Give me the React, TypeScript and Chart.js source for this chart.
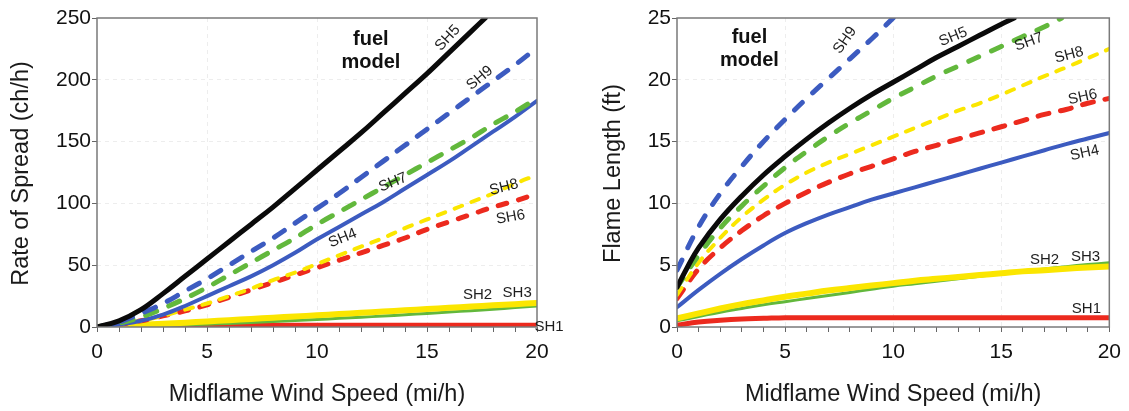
import React, { useEffect, useRef } from 'react';
import { Chart, registerables } from 'chart.js';
Chart.register(...registerables);

const FONT = '"Liberation Sans", Arial, Helvetica, sans-serif';

// ---------- Left chart: Rate of Spread (ch/h) ----------
const WIND = [0, 1, 2, 3, 4, 5, 6, 7, 8, 9, 10, 11, 12, 13, 14, 15, 16, 17, 18, 19, 20];
const ROS_SH5_X = [0, 1, 2, 3, 4, 5, 6, 7, 8, 9, 10, 11, 12, 13, 14, 15, 16, 17, 17.65];
const ROS_SH5 = [0, 5, 14, 27, 41, 55, 69, 83, 97, 112, 127, 142, 157, 173, 189, 205, 222, 239, 250];
const ROS_SH9 = [0, 4, 11, 19, 29, 39, 50, 61, 72, 84, 96, 108, 121, 134, 147, 160, 173, 186, 199, 212, 226];
const ROS_SH7 = [0, 3, 8, 15, 23, 32, 42, 52, 62, 72, 83, 93, 103, 113, 123, 133, 143, 153, 164, 174, 185];
const ROS_SH4 = [0, 2, 5, 10, 17, 25, 33, 41, 50, 60, 71, 81, 91, 101, 112, 123, 134, 146, 158, 170, 183];
const ROS_SH8 = [0, 2, 5, 9, 14, 19, 25, 31, 38, 44, 51, 58, 65, 72, 80, 87, 94, 101, 108, 116, 123];
const ROS_SH6 = [0, 2, 5, 9, 13, 18, 24, 30, 36, 42, 48, 54, 60, 66, 72, 79, 85, 91, 97, 102, 108];
const ROS_SH2 = [0, 0.8, 1.7, 2.6, 3.5, 4.5, 5.5, 6.5, 7.5, 8.5, 9.5, 10.5, 11.5, 12.5, 13.5, 14.5, 15.5, 16.5, 17.5, 18.5, 19.5];
const ROS_SH3 = [0, 0.3, 0.7, 1.2, 1.7, 2.3, 2.9, 3.6, 4.4, 5.2, 6.1, 7.0, 7.9, 8.9, 9.9, 11.0, 12.1, 13.2, 14.4, 15.7, 17.0];
const ROS_SH1 = [0, 0.9, 1.2, 1.4, 1.5, 1.5, 1.5, 1.5, 1.5, 1.5, 1.5, 1.5, 1.5, 1.5, 1.5, 1.5, 1.5, 1.5, 1.5, 1.5, 1.5];

// ---------- Right chart: Flame Length (ft) ----------
const FL_SH9_X = [0, 1, 2, 3, 4, 5, 6, 7, 8, 9, 10];
const FL_SH9 = [4.6, 8.1, 10.8, 13.0, 15.0, 16.8, 18.5, 20.1, 21.7, 23.3, 25.0];
const FL_SH5_X = [0, 0.5, 1, 2, 3, 4, 5, 6, 7, 8, 9, 10, 11, 12, 13, 14, 15, 15.6];
const FL_SH5 = [3.2, 4.9, 6.4, 8.7, 10.6, 12.3, 13.8, 15.2, 16.5, 17.7, 18.8, 19.8, 20.8, 21.8, 22.7, 23.6, 24.5, 25.0];
const FL_SH7_X = [0, 1, 2, 3, 4, 5, 6, 7, 8, 9, 10, 11, 12, 13, 14, 15, 16, 17, 17.8];
const FL_SH7 = [3.2, 5.8, 8.0, 9.8, 11.4, 12.9, 14.2, 15.4, 16.5, 17.5, 18.5, 19.4, 20.3, 21.1, 21.9, 22.7, 23.5, 24.3, 25.0];
const FL_SH8 = [2.6, 5.2, 7.2, 8.9, 10.3, 11.5, 12.5, 13.3, 14.0, 14.7, 15.4, 16.1, 16.8, 17.5, 18.1, 18.8, 19.55, 20.3, 21.0, 21.75, 22.5];
const FL_SH6 = [2.3, 4.7, 6.4, 7.8, 9.0, 10.0, 10.9, 11.7, 12.4, 13.0, 13.6, 14.2, 14.7, 15.2, 15.7, 16.2, 16.7, 17.2, 17.6, 18.1, 18.5];
const FL_SH4 = [1.6, 3.0, 4.3, 5.5, 6.6, 7.6, 8.4, 9.1, 9.7, 10.3, 10.8, 11.3, 11.8, 12.3, 12.8, 13.3, 13.8, 14.3, 14.8, 15.25, 15.7];
const FL_SH2 = [0.7, 1.1, 1.5, 1.85, 2.15, 2.45, 2.7, 2.95, 3.15, 3.35, 3.55, 3.75, 3.9, 4.05, 4.2, 4.35, 4.5, 4.6, 4.72, 4.82, 4.9];
const FL_SH3 = [0.5, 0.85, 1.2, 1.5, 1.8, 2.05, 2.3, 2.55, 2.8, 3.05, 3.3, 3.5, 3.7, 3.9, 4.1, 4.3, 4.5, 4.7, 4.88, 5.05, 5.2];
const FL_SH1 = [0.15, 0.4, 0.55, 0.65, 0.7, 0.75, 0.75, 0.75, 0.75, 0.75, 0.75, 0.75, 0.75, 0.75, 0.75, 0.75, 0.75, 0.75, 0.75, 0.75, 0.75];

// ---------- Text ----------
const X_TITLE = 'Midflame Wind Speed (mi/h)';
const ROS_TITLE = 'Rate of Spread (ch/h)';
const FL_TITLE = 'Flame Length (ft)';
const X_TICKS = [0, 5, 10, 15, 20];
const ROS_TICKS = [0, 50, 100, 150, 200, 250];
const FL_TICKS = [0, 5, 10, 15, 20, 25];

const ROS_LABELS = [
  { text: 'SH5', x: 15.94, y: 233.8, rot: -47 },
  { text: 'SH9', x: 17.4, y: 201.4, rot: -40 },
  { text: 'SH7', x: 13.45, y: 117, rot: -22 },
  { text: 'SH4', x: 11.17, y: 71.8, rot: -22 },
  { text: 'SH8', x: 18.5, y: 113, rot: -14 },
  { text: 'SH6', x: 18.8, y: 88.8, rot: -10 },
  { text: 'SH2', x: 17.3, y: 25.7, rot: 0 },
  { text: 'SH3', x: 19.1, y: 27.3, rot: 0 },
  { text: 'SH1', x: 20.55, y: 0.5, rot: 0 },
];
const FL_LABELS = [
  { text: 'SH9', x: 7.77, y: 23.2, rot: -55 },
  { text: 'SH5', x: 12.78, y: 23.46, rot: -22 },
  { text: 'SH7', x: 16.28, y: 23.06, rot: -20 },
  { text: 'SH8', x: 18.14, y: 22.0, rot: -15 },
  { text: 'SH6', x: 18.77, y: 18.6, rot: -12 },
  { text: 'SH4', x: 18.86, y: 14.07, rot: -12 },
  { text: 'SH2', x: 17.0, y: 5.4, rot: 0 },
  { text: 'SH3', x: 18.9, y: 5.65, rot: 0 },
  { text: 'SH1', x: 18.94, y: 1.44, rot: 0 },
];
const ROS_FUEL = { x: 12.45, y1: 233, y2: 214.4 };
const FL_FUEL = { x: 3.35, y1: 23.46, y2: 21.6 };

const BLACK = '#0a0a0a';
const BLUE = '#3c5bc0';
const GREEN = '#62b83c';
const YELLOW = '#fbe600';
const RED = '#ec2a1e';

function line(xs: number[], ys: number[], color: string, width: number, dash: number[] = []) {
  return {
    data: xs.map((x, i) => ({ x, y: ys[i] })),
    borderColor: color,
    backgroundColor: color,
    borderWidth: width,
    borderDash: dash,
    borderCapStyle: 'round',
    borderJoinStyle: 'round',
    pointRadius: 0,
    tension: 0.4,
    fill: false,
  };
}

function buildConfig(p: any) {
  const decor = {
    id: 'decor',
    afterDatasetsDraw(chart: any) {
      const { ctx, chartArea: a, scales } = chart;
      const xs = scales.x;
      const ys = scales.y;
      ctx.save();
      // frame
      ctx.strokeStyle = '#7a7a7a';
      ctx.lineWidth = 1.5;
      ctx.strokeRect(a.left, a.top, a.right - a.left, a.bottom - a.top);
      // series labels
      ctx.fillStyle = '#1e1e1e';
      ctx.font = `15px ${FONT}`;
      ctx.textAlign = 'center';
      ctx.textBaseline = 'middle';
      for (const l of p.labels) {
        const px = xs.getPixelForValue(l.x);
        const py = ys.getPixelForValue(l.y);
        ctx.save();
        ctx.translate(px, py);
        ctx.rotate((l.rot * Math.PI) / 180);
        ctx.fillText(l.text, 0, 0);
        ctx.restore();
      }
      // fuel model
      ctx.fillStyle = '#111';
      ctx.font = `bold 20px ${FONT}`;
      ctx.fillText('fuel', xs.getPixelForValue(p.fuel.x), ys.getPixelForValue(p.fuel.y1));
      ctx.fillText('model', xs.getPixelForValue(p.fuel.x), ys.getPixelForValue(p.fuel.y2));
      // axis titles
      ctx.fillStyle = '#1a1a1a';
      ctx.font = `23.5px ${FONT}`;
      ctx.fillText(X_TITLE, (a.left + a.right) / 2, p.xTitleY);
      ctx.save();
      ctx.translate(p.yTitleX, (a.top + a.bottom) / 2 + 1);
      ctx.rotate(-Math.PI / 2);
      ctx.fillText(p.yTitle, 0, 0);
      ctx.restore();
      ctx.restore();
    },
  };

  const gridColor = (max: number, step: number) => (c: any) => {
    const v = c.tick ? c.tick.value : 0;
    if (v <= 0 || v >= max) return 'rgba(0,0,0,0)';
    return v % step === 0 ? 'rgba(0,0,0,0.07)' : 'rgba(0,0,0,0)';
  };

  return {
    type: 'line',
    data: { datasets: p.datasets },
    plugins: [decor],
    options: {
      animation: false,
      responsive: false,
      maintainAspectRatio: false,
      events: [],
      layout: { padding: { top: 18, right: p.padRight, left: 0, bottom: 0 } },
      plugins: { legend: { display: false }, tooltip: { enabled: false }, title: { display: false } },
      scales: {
        x: {
          type: 'linear',
          min: 0,
          max: 20,
          afterFit: (s: any) => { s.height = 84; },
          afterBuildTicks: (s: any) => {
            s.ticks = WIND.map((v) => ({ value: v }));
          },
          ticks: {
            autoSkip: false,
            maxRotation: 0,
            padding: 8,
            color: '#111',
            font: { family: FONT, size: 21 },
            callback: (v: any) => (X_TICKS.includes(v) ? String(v) : ''),
          },
          grid: {
            color: gridColor(20, 5),
            tickColor: '#666',
            tickLength: 5,
            tickWidth: 1,
            lineWidth: 1,
          },
          border: { display: false, dash: [4, 4] },
        },
        y: {
          type: 'linear',
          min: 0,
          max: p.yMax,
          afterFit: (s: any) => { s.width = p.yAxisWidth; },
          afterBuildTicks: (s: any) => {
            s.ticks = p.yTicks.map((v: number) => ({ value: v }));
          },
          ticks: {
            padding: 1,
            color: '#111',
            font: { family: FONT, size: 21 },
            callback: (v: any) => String(v),
          },
          grid: {
            color: gridColor(p.yMax, p.yStep),
            tickColor: '#666',
            tickLength: 5,
            tickWidth: 1,
          },
          border: { display: false, dash: [4, 4] },
        },
      },
    },
  };
}

const rosDatasets = () => [
  line(ROS_SH5_X, ROS_SH5, BLACK, 5),
  line(WIND, ROS_SH9, BLUE, 5, [12, 13]),
  line(WIND, ROS_SH7, GREEN, 5, [12, 13]),
  line(WIND, ROS_SH4, BLUE, 4),
  line(WIND, ROS_SH8, YELLOW, 4, [8, 10]),
  line(WIND, ROS_SH6, RED, 5, [9, 12]),
  line(WIND, ROS_SH2, YELLOW, 6),
  line(WIND, ROS_SH3, GREEN, 3),
  line(WIND, ROS_SH1, RED, 5),
];

const flDatasets = () => [
  line(FL_SH5_X, FL_SH5, BLACK, 5),
  line(FL_SH9_X, FL_SH9, BLUE, 5, [11, 14]),
  line(FL_SH7_X, FL_SH7, GREEN, 5, [11, 14]),
  line(WIND, FL_SH4, BLUE, 4),
  line(WIND, FL_SH8, YELLOW, 4, [8, 10]),
  line(WIND, FL_SH6, RED, 5, [11, 12]),
  line(WIND, FL_SH2, YELLOW, 6),
  line(WIND, FL_SH3, GREEN, 3),
  line(WIND, FL_SH1, RED, 5),
];

export default function App() {
  const leftRef = useRef<HTMLCanvasElement>(null);
  const rightRef = useRef<HTMLCanvasElement>(null);

  useEffect(() => {
    const c1 = new Chart(leftRef.current as any, buildConfig({
      datasets: rosDatasets(),
      labels: ROS_LABELS,
      fuel: ROS_FUEL,
      yMax: 250,
      yStep: 50,
      yTicks: ROS_TICKS,
      yAxisWidth: 97,
      padRight: 28,
      yTitle: ROS_TITLE,
      yTitleX: 22,
      xTitleY: 395,
    }) as any);
    const c2 = new Chart(rightRef.current as any, buildConfig({
      datasets: flDatasets(),
      labels: FL_LABELS,
      fuel: FL_FUEL,
      yMax: 25,
      yStep: 5,
      yTicks: FL_TICKS,
      yAxisWidth: 112,
      padRight: 11,
      yTitle: FL_TITLE,
      yTitleX: 49,
      xTitleY: 395,
    }) as any);
    return () => {
      c1.destroy();
      c2.destroy();
    };
  }, []);

  return (
    <div style={{ position: 'absolute', left: 0, top: 0, width: 1129, height: 411, background: '#fff' }}>
      <canvas ref={leftRef} width={565} height={411} style={{ position: 'absolute', left: 0, top: 0, width: 565, height: 411 }} />
      <canvas ref={rightRef} width={564} height={411} style={{ position: 'absolute', left: 565, top: 0, width: 564, height: 411 }} />
    </div>
  );
}
